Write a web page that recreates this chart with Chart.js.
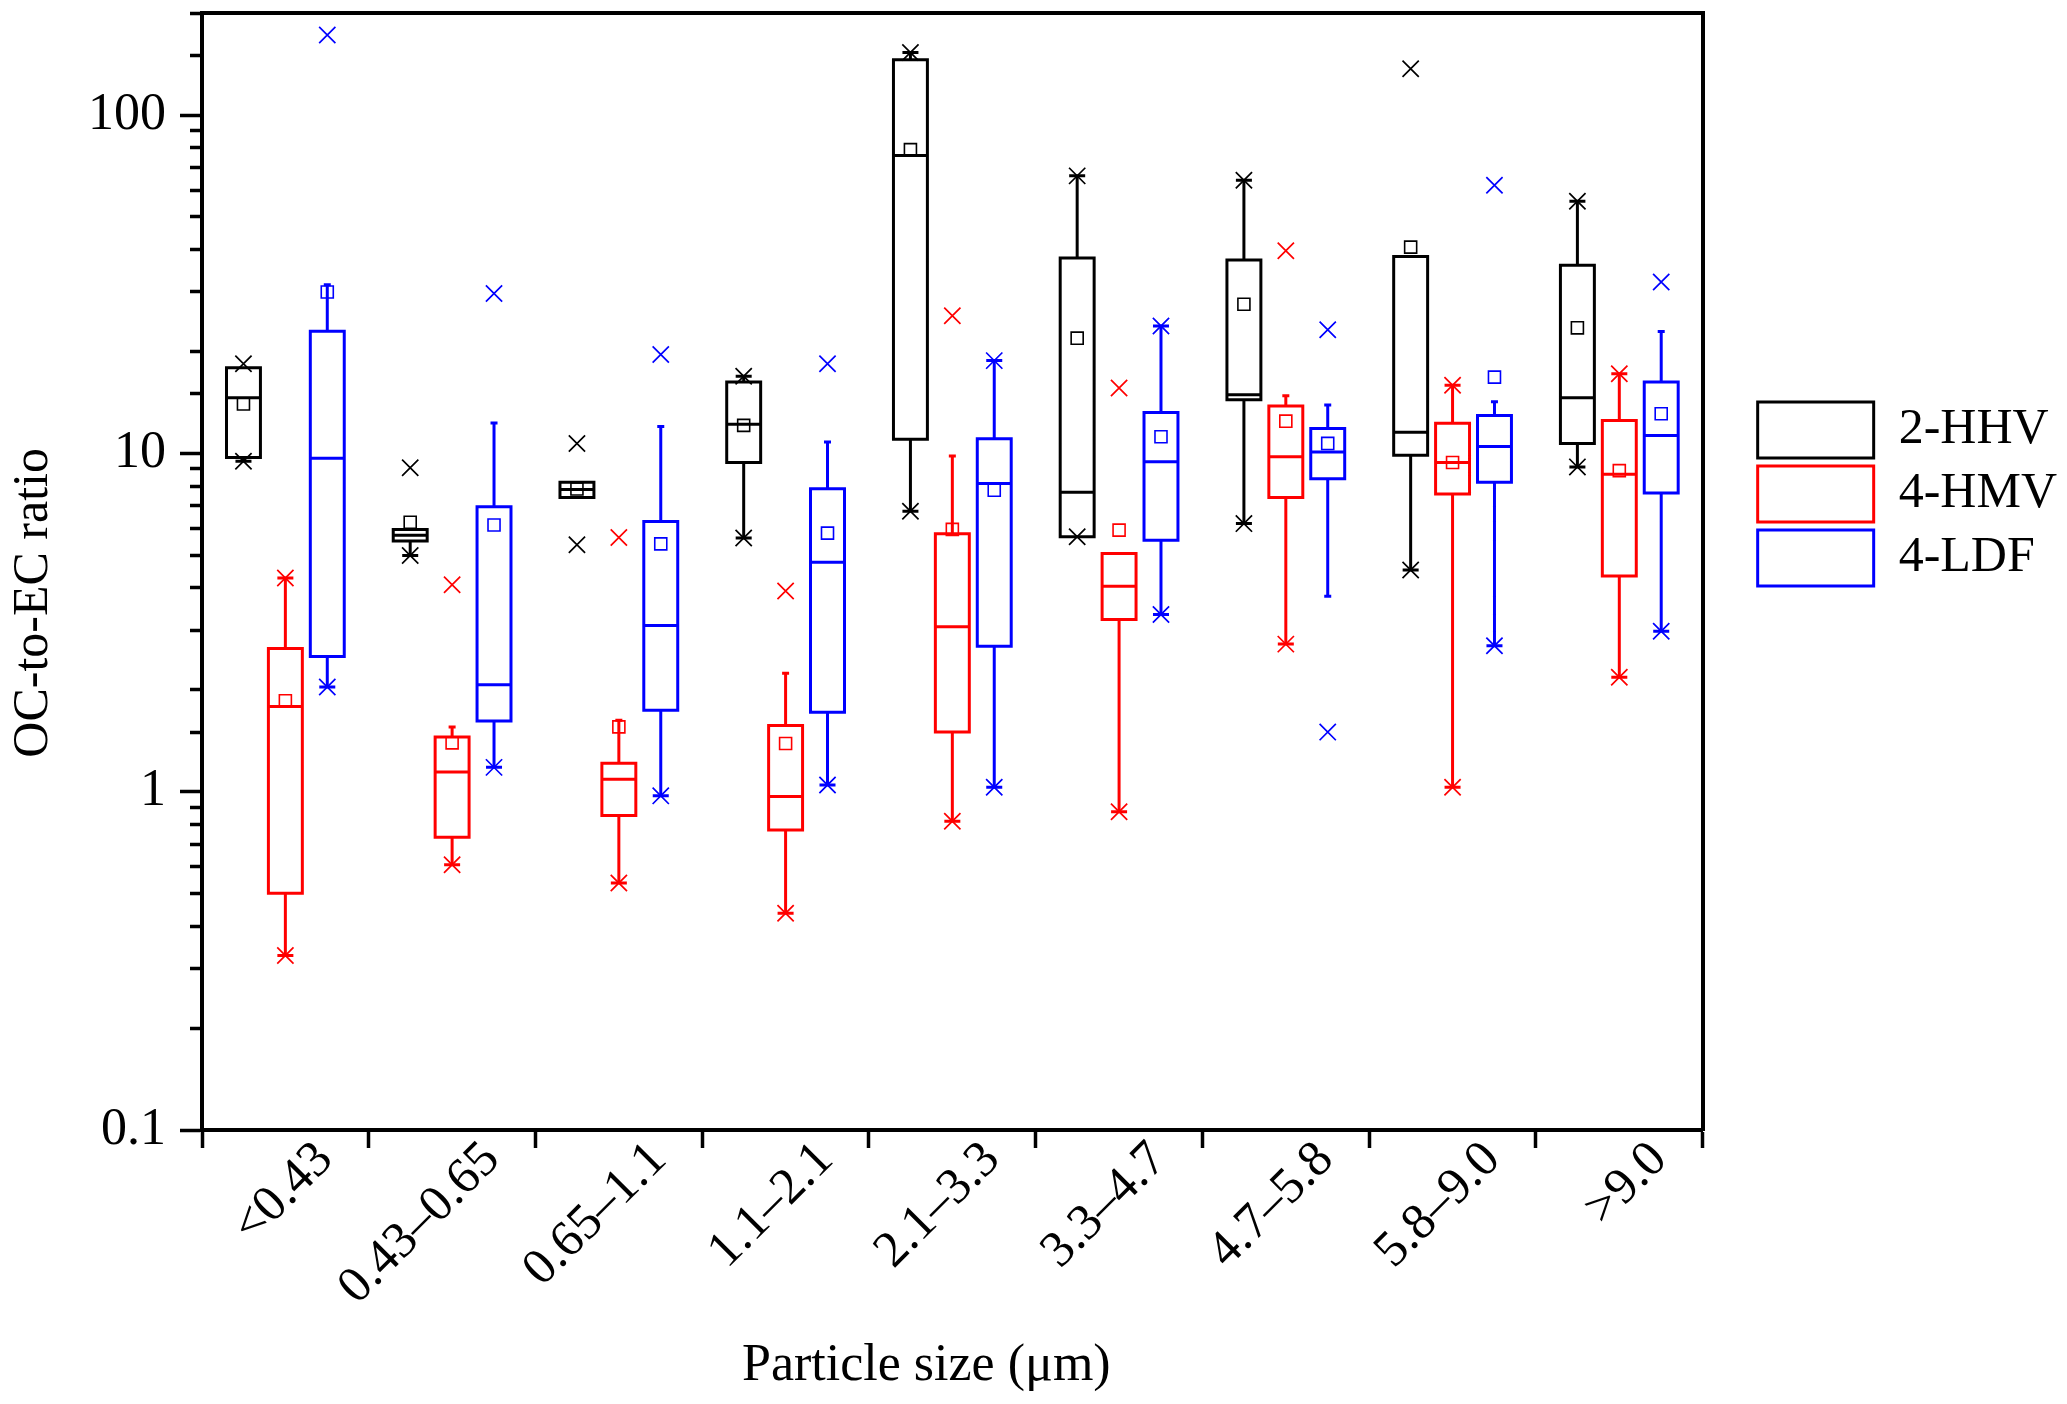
<!DOCTYPE html>
<html><head><meta charset="utf-8">
<script src="https://cdn.jsdelivr.net/npm/chart.js@4"></script>
<style>html,body{margin:0;padding:0;background:#fff;}canvas{display:block;}</style>
</head><body>
<canvas id="c" width="2067" height="1404" style="width:2067px;height:1404px"></canvas>
<script>
const categories = ['<0.43','0.43\u20130.65','0.65\u20131.1','1.1\u20132.1','2.1\u20133.3','3.3\u20134.7','4.7\u20135.8','5.8\u20139.0','>9.0'];
const seriesNames = ['2-HHV','4-HMV','4-LDF'];
const seriesColors = ['#000000','#ff0000','#0000ff'];
const yTickLabels = [0.1, 1, 10, 100];

// 2-HHV
const hhvQ1   = [9.72, 5.51, 7.41, 9.39, 11.0, 5.67, 14.4, 9.87, 10.7];
const hhvMed  = [14.6, 5.73, 7.82, 12.2, 75.9, 7.67, 14.9, 11.55, 14.6];
const hhvQ3   = [17.9, 5.96, 8.22, 16.25, 145.8, 37.8, 37.3, 38.2, 36.0];
const hhvMean = [14.0, 6.26, 7.85, 12.1, 79.0, 21.9, 27.6, 40.7, 23.5];
const hhvWLo  = [9.48, 4.99, 7.41, 5.62, 6.74, 5.67, 6.2, 4.52, 9.12];
const hhvWHi  = [17.9, 5.96, 8.22, 16.9, 153, 66.1, 64.2, 38.2, 55.6];
const hhvMin  = [9.48, 4.99, 5.37, 5.62, 6.74, 5.67, 6.2, 4.52, 9.12];
const hhvMax  = [18.4, 9.07, 10.7, 16.9, 153, 66.1, 64.2, 137, 55.6];
// 4-HMV
const hmvQ1   = [0.501, 0.733, 0.851, 0.77, 1.50, 3.23, 7.41, 7.59, 4.34];
const hmvMed  = [1.785, 1.144, 1.089, 0.967, 3.07, 4.05, 9.77, 9.39, 8.68];
const hmvQ3   = [2.65, 1.45, 1.214, 1.57, 5.79, 5.06, 13.8, 12.27, 12.5];
const hmvMean = [1.857, 1.394, 1.554, 1.388, 5.96, 5.93, 12.45, 9.4, 8.89];
const hmvWLo  = [0.328, 0.608, 0.537, 0.437, 0.818, 0.872, 2.73, 1.03, 2.18];
const hmvWHi  = [4.28, 1.554, 1.625, 2.24, 9.82, 5.06, 14.8, 15.9, 17.2];
const hmvMin  = [0.328, 0.608, 0.537, 0.437, 0.818, 0.872, 2.73, 1.03, 2.18];
const hmvMax  = [4.28, 4.09, 5.64, 3.92, 25.5, 15.6, 39.7, 15.9, 17.2];
// 4-LDF
const ldfQ1   = [2.51, 1.617, 1.741, 1.716, 2.69, 5.54, 8.42, 8.22, 7.63];
const ldfMed  = [9.67, 2.07, 3.10, 4.77, 8.14, 9.44, 10.1, 10.47, 11.3];
const ldfQ3   = [22.96, 6.95, 6.29, 7.86, 11.05, 13.2, 11.85, 12.95, 16.25];
const ldfMean = [30.0, 6.14, 5.40, 5.81, 7.78, 11.2, 10.7, 16.8, 13.1];
const ldfWLo  = [2.04, 1.18, 0.972, 1.047, 1.031, 3.34, 3.78, 2.70, 2.98];
const ldfWHi  = [31.5, 12.3, 12.0, 10.8, 18.8, 23.8, 13.9, 14.2, 22.9];
const ldfMin  = [2.04, 1.18, 0.972, 1.047, 1.031, 3.34, 1.50, 2.70, 2.98];
const ldfMax  = [172.5, 29.7, 19.6, 18.4, 18.8, 23.8, 23.2, 62.0, 32.1];

const groupPct = 0.754, boxPct = 0.81;
const FONT = 'Liberation Serif, "Times New Roman", serif';

const series = [
  [hhvQ1, hhvMed, hhvQ3, hhvMean, hhvWLo, hhvWHi, hhvMin, hhvMax],
  [hmvQ1, hmvMed, hmvQ3, hmvMean, hmvWLo, hmvWHi, hmvMin, hmvMax],
  [ldfQ1, ldfMed, ldfQ3, ldfMean, ldfWLo, ldfWHi, ldfMin, ldfMax]
];
const halfW = groupPct / 3 * boxPct / 2;   // half box width in category units

const boxSets = [], otherSets = [];
series.forEach((s, k) => {
  const [q1, med, q3, mean, wLo, wHi, mn, mx] = s;
  const off = (k - 1) * groupPct / 3;
  const col = seriesColors[k];
  const bx = [];
  categories.forEach((c, i) => {
    const x = i + off, l = x - halfW, r = x + halfW;
    bx.push({x: l, y: q1[i]}, {x: r, y: q1[i]}, {x: r, y: q3[i]}, {x: l, y: q3[i]}, {x: l, y: q1[i]}, {x: l, y: null});
    bx.push({x: l, y: med[i]}, {x: r, y: med[i]}, {x: r, y: null});
  });
  boxSets.push({
    type: 'line', label: seriesNames[k], data: bx, xAxisID: 'xLin', yAxisID: 'y',
    borderColor: col, backgroundColor: 'rgba(0,0,0,0)', borderWidth: 3,
    borderJoinStyle: 'miter', borderCapStyle: 'square', spanGaps: false, fill: false,
    pointRadius: 0, order: 5
  });
  const wh = [];
  categories.forEach((c, i) => {
    const x = i + off;
    if (wHi[i] > q3[i]) {
      wh.push({x, y: q3[i], r: 0}, {x, y: wHi[i], r: wHi[i] === mx[i] ? 8 : 3.5}, {x, y: null, r: 0});
    }
    if (wLo[i] < q1[i]) {
      wh.push({x, y: q1[i], r: 0}, {x, y: wLo[i], r: wLo[i] === mn[i] ? 8 : 3.5}, {x, y: null, r: 0});
    }
  });
  otherSets.push({
    type: 'line', label: 'whisker' + k, data: wh, xAxisID: 'xLin', yAxisID: 'y',
    borderColor: col, borderWidth: 3, spanGaps: false, fill: false,
    pointStyle: 'line', pointBorderColor: col, pointBorderWidth: 3,
    pointRadius: c => (c.raw && c.raw.r) || 0, order: 4
  });
  otherSets.push({
    type: 'scatter', label: 'mean' + k,
    data: mean.map((v, i) => ({x: i + off, y: v})), xAxisID: 'xLin', yAxisID: 'y',
    pointStyle: 'rect', pointRadius: 8.5, pointBorderColor: col, pointBackgroundColor: 'rgba(0,0,0,0)',
    pointBorderWidth: 1.6, order: 2
  });
  const mk = [];
  categories.forEach((c, i) => { mk.push({x: i + off, y: mn[i]}, {x: i + off, y: mx[i]}); });
  otherSets.push({
    type: 'scatter', label: 'minmax' + k, data: mk, xAxisID: 'xLin', yAxisID: 'y',
    pointStyle: 'crossRot', pointRadius: 11.5, pointBorderColor: col, pointBorderWidth: 1.7, order: 1
  });
});

function isDecade(v) { const l = Math.log10(v); return Math.abs(l - Math.round(l)) < 1e-6; }

new Chart(document.getElementById('c'), {
  type: 'line',
  data: { labels: categories, datasets: boxSets.concat(otherSets) },
  options: {
    responsive: false, animation: false, devicePixelRatio: 1, events: [],
    layout: { padding: { top: 12, left: 0, right: 0, bottom: 2 } },
    plugins: {
      tooltip: { enabled: false },
      legend: {
        position: 'right', align: 'start',
        title: { display: true, text: ' ', font: { size: 10 }, padding: { top: 0, bottom: 370 } },
        labels: {
          filter: item => item.datasetIndex < 3,
          boxWidth: 116, boxHeight: 56, padding: 8, color: '#000',
          font: { family: FONT, size: 50 }
        }
      }
    },
    scales: {
      x: {
        type: 'category', position: 'bottom', offset: true,
        grid: { display: true, drawOnChartArea: false, offset: true, tickLength: 18, tickWidth: 3.5, tickColor: '#000' },
        border: { display: true, color: '#000', width: 4 },
        ticks: { color: '#000', font: { family: FONT, size: 51 }, minRotation: 45, maxRotation: 45, padding: -18, labelOffset: 40, autoSkip: false },
        title: { display: true, text: 'Particle size (\u03bcm)\u00a0\u00a0\u00a0\u00a0', color: '#000', font: { family: FONT, size: 52 }, padding: 4 },
        afterFit: s => { s.height = 272; s.paddingLeft = 0; s.paddingRight = 0; }
      },
      xLin: { type: 'linear', display: false, offset: false, min: -0.5, max: categories.length - 0.5 },
      xTop: {
        type: 'linear', position: 'top', display: true, offset: false,
        grid: { display: false, drawTicks: false }, ticks: { display: false },
        border: { display: true, color: '#000', width: 4 },
        afterFit: s => { s.height = 0; s.paddingLeft = 0; s.paddingRight = 0; }
      },
      y: {
        type: 'logarithmic', position: 'left', min: 0.1, max: 200,
        grid: {
          display: true, drawOnChartArea: false, tickLength: 22, tickWidth: 3.5, tickColor: '#000',
          tickBorderDash: c => (c.tick && isDecade(c.tick.value)) ? [] : [0, 10, 40, 0]
        },
        border: { display: true, color: '#000', width: 4 },
        ticks: {
          color: '#000', font: { family: FONT, size: 52 }, padding: 14, autoSkip: false,
          callback: v => yTickLabels.some(t => Math.abs(t - v) / t < 1e-6) ? String(v) : ''
        },
        title: { display: true, text: 'OC-to-EC ratio\u00a0\u00a0\u00a0\u00a0\u00a0', color: '#000', font: { family: FONT, size: 50 }, padding: 4 },
        afterFit: s => { s.width = 202; s.paddingTop = 0; s.paddingBottom = 0; }
      },
      yRight: {
        type: 'linear', position: 'right', display: true,
        grid: { display: false, drawTicks: false }, ticks: { display: false },
        border: { display: true, color: '#000', width: 4 },
        afterFit: s => { s.width = 47; s.paddingTop = 0; s.paddingBottom = 0; }
      }
    }
  }
});
</script>
</body></html>
